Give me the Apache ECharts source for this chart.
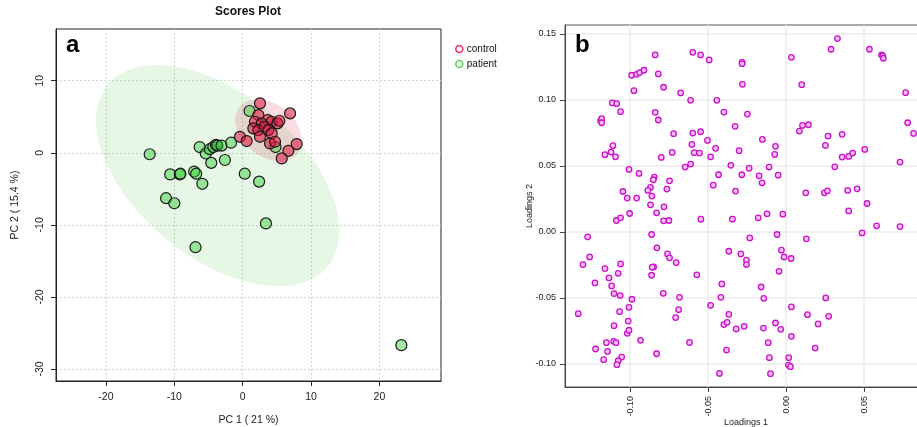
<!DOCTYPE html>
<html>
<head>
<meta charset="utf-8">
<script src="https://cdn.jsdelivr.net/npm/echarts@6/dist/echarts.min.js"></script>
<style>
  html, body { margin: 0; padding: 0; background: #ffffff; }
  #chart { width: 917px; height: 427px; }
</style>
</head>
<body>
<div id="chart"></div>
<script>
// ---- PCA scores (panel a) ----
const controlPC1 = [2.53, 6.93, 2.29, 3.66, 4.24, 1.80, 5.07, 5.36, 2.78, 1.56, 2.29, 3.26, 3.75, 4.24, 2.53, 4.00, 4.73, -0.40, 0.58, 7.90, 6.68, 5.71];
const controlPC2 = [6.86, 5.47, 5.24, 4.54, 4.31, 4.31, 4.08, 4.45, 4.08, 3.39, 3.15, 3.61, 3.15, 2.69, 2.22, 1.30, 1.53, 2.22, 1.63, 1.21, 0.28, -0.78];

const patientPC1 = [-13.6, -10.6, -9.2, -9.1, -7.1, -6.8, -5.9, -11.2, -10.0, -6.9, -6.3, -5.4, -4.6, -4.8, -4.3, -3.9, -3.7, -3.1, -2.6, -1.7, 0.3, 2.4, 3.4, 1.0, 4.8, 23.2];
const patientPC2 = [-0.2, -3.0, -3.0, -2.9, -2.6, -2.9, -4.3, -6.3, -7.0, -13.1, 0.8, -0.1, -1.4, 0.5, 0.8, 1.1, 1.0, 1.0, -1.0, 1.4, -2.9, -4.0, -9.8, 5.8, 0.8, -26.7];

// 95% confidence ellipses of each group: centre, spread along each PC, correlation
const controlEllipse = { cx: 3.78, cy: 3.13, sx: 4.86, sy: 4.28, r: -0.32 };
const patientEllipse = { cx: -3.66, cy: -3.17, sx: 17.79, sy: 15.35, r: -0.50 };

const scoreTicksX = [-20, -10, 0, 10, 20];
const scoreTicksY = [-30, -20, -10, 0, 10];

// ---- PCA loadings (panel b): [loading 1, loading 2] per variable ----
const loadingPairs = [
  [-0.0839,0.1341],[-0.0598,0.1361],[-0.0548,0.1341],[-0.0493,0.1303],[-0.0282,0.1285],[-0.0282,0.1275],[-0.0280,0.1118],[0.0034,0.1323],[0.0329,0.1465],[0.0288,0.1384],[0.0534,0.1384],[0.0612,0.1341],[0.0619,0.1334],[0.0623,0.1316],
  [-0.0990,0.1187],[-0.0958,0.1194],[-0.0939,0.1207],[-0.0911,0.1225],[-0.0975,0.1070],[-0.0819,0.1197],[-0.0785,0.1096],[-0.0676,0.1053],[-0.0612,0.0997],[-0.0444,0.0997],[0.0100,0.1116],[0.0766,0.1055],
  [-0.1114,0.0977],[-0.1086,0.0972],[-0.1061,0.0911],[-0.1189,0.0843],[-0.1182,0.0858],[-0.1182,0.0827],[-0.0839,0.0906],[-0.0819,0.0848],[-0.0248,0.0893],[-0.0399,0.0908],[-0.0721,0.0744],[-0.0598,0.0749],[-0.0548,0.0759],[-0.0327,0.0800],[-0.0504,0.0693],[0.0085,0.0764],[0.0105,0.0807],[0.0143,0.0812],[0.0779,0.0827],[0.0817,0.0746],
  [-0.1110,0.0653],[-0.1122,0.0605],[-0.1093,0.0569],[-0.1161,0.0585],[-0.0800,0.0564],[-0.0730,0.0602],[-0.0604,0.0663],[-0.0589,0.0600],[-0.0555,0.0597],[-0.0484,0.0569],[-0.0452,0.0633],[-0.0301,0.0615],[-0.0152,0.0701],[-0.0068,0.0648],[-0.0073,0.0587],[0.0269,0.0726],[0.0252,0.0655],[0.0359,0.0739],[0.0359,0.0567],[0.0401,0.0572],[0.0427,0.0597],[0.0504,0.0625],
  [-0.1007,0.0473],[-0.0943,0.0443],[-0.0647,0.0491],[-0.0612,0.0514],[-0.0354,0.0504],[-0.0433,0.0433],[-0.0237,0.0483],[-0.0284,0.0433],[-0.0109,0.0491],[-0.0051,0.0430],[-0.0173,0.0425],[-0.0154,0.0372],[0.0312,0.0493],[0.0730,0.0529],
  [-0.0845,0.0415],[-0.0851,0.0395],[-0.0869,0.0337],[-0.0886,0.0314],[-0.0747,0.0387],[-0.0467,0.0354],[-0.1046,0.0306],[-0.0860,0.0271],[-0.1018,0.0256],[-0.0958,0.0256],[-0.0764,0.0324],[-0.0324,0.0309],[0.0126,0.0296],[0.0245,0.0296],[0.0265,0.0311],[0.0395,0.0314],[0.0455,0.0326],
  [-0.0869,0.0205],[-0.0783,0.0190],[-0.0830,0.0144],[-0.1003,0.0139],[0.0519,0.0215],[0.0401,0.0159],[-0.1088,0.0086],[-0.1061,0.0106],[-0.0785,0.0084],[-0.0751,0.0086],[-0.0546,0.0096],[-0.0344,0.0096],[-0.0179,0.0106],[-0.0122,0.0137],[-0.0021,0.0134],[0.0580,0.0046],[0.0730,0.0040],
  [-0.1272,-0.0038],[-0.0862,-0.0020],[-0.0058,-0.0020],[0.0487,-0.0008],[0.0130,-0.0053],[-0.0233,-0.0046],[-0.1259,-0.0190],[-0.1302,-0.0248],[-0.0828,-0.0121],[-0.0367,-0.0147],[-0.0030,-0.0139],[-0.0760,-0.0167],[-0.0747,-0.0197],[-0.0290,-0.0167],[-0.0254,-0.0215],[-0.0254,-0.0248],[-0.0013,-0.0190],[0.0032,-0.0202],
  [-0.1161,-0.0278],[-0.1061,-0.0243],[-0.0849,-0.0266],[-0.0858,-0.0268],[-0.0704,-0.0233],[-0.1076,-0.0314],[-0.1135,-0.0349],[-0.0862,-0.0329],[-0.0572,-0.0326],[-0.0045,-0.0299],[-0.1225,-0.0387],[-0.1118,-0.0410],[-0.0412,-0.0395],[-0.0160,-0.0418],
  [-0.1103,-0.0468],[-0.1063,-0.0483],[-0.0988,-0.0511],[-0.0787,-0.0466],[-0.0683,-0.0496],[-0.0418,-0.0496],[-0.0143,-0.0504],[0.0254,-0.0501],[-0.1332,-0.0620],[-0.1007,-0.0572],[-0.0484,-0.0557],[-0.0689,-0.0590],[0.0034,-0.0569],[-0.1067,-0.0605],[-0.1012,-0.0676],[-0.0708,-0.0650],[-0.0367,-0.0625],[0.0137,-0.0628],[0.0273,-0.0640],
  [-0.1103,-0.0711],[-0.0399,-0.0703],[-0.0378,-0.0686],[-0.0320,-0.0736],[-0.0269,-0.0716],[-0.0068,-0.0691],[-0.0034,-0.0739],[-0.0145,-0.0729],[0.0205,-0.0698],[-0.1018,-0.0769],[-0.1007,-0.0746],[-0.0933,-0.0822],[-0.1152,-0.0840],[-0.1105,-0.0830],[-0.1090,-0.0840],[-0.1221,-0.0888],[-0.1144,-0.0906],[-0.0619,-0.0838],[0.0034,-0.0792],[-0.0115,-0.0840],[0.0186,-0.0881],[-0.0382,-0.0896],[-0.0830,-0.0924],
  [-0.1169,-0.0969],[-0.1054,-0.0949],[-0.1076,-0.0977],[-0.1084,-0.1007],[-0.0107,-0.0954],[0.0017,-0.0954],[0.0015,-0.1010],[0.0028,-0.1022],[-0.0427,-0.1073],[-0.0100,-0.1075]
];

const loadingTicksX = [-0.10, -0.05, 0, 0.05, 0.10];
const loadingTicksY = [-0.10, -0.05, 0, 0.05, 0.10, 0.15];

// ---- styling ----
const FONT = '"Liberation Sans", Arial, Helvetica, sans-serif';
const INK = '#222222';
const CONTROL_FILL = 'rgba(220, 20, 60, 0.55)';
const PATIENT_FILL = 'rgba(50, 205, 50, 0.45)';
const CONTROL_AREA = 'rgba(220, 20, 60, 0.15)';
const PATIENT_AREA = 'rgba(90, 200, 90, 0.15)';

function zip(xs, ys) { return xs.map((x, i) => [x, ys[i]]); }

// Confidence ellipse outline traced in data space and mapped through the axes
function ellipseSeries(e, fill) {
  return {
    type: 'custom',
    xAxisIndex: 0, yAxisIndex: 0,
    silent: true, z: 1,
    data: [[e.cx, e.cy]],
    renderItem: function (params, api) {
      const pts = [];
      const n = 120, k = Math.sqrt(1 - e.r * e.r);
      for (let i = 0; i < n; i++) {
        const t = (i / n) * 2 * Math.PI;
        const x = e.cx + e.sx * Math.cos(t);
        const y = e.cy + e.sy * (e.r * Math.cos(t) + k * Math.sin(t));
        pts.push(api.coord([x, y]));
      }
      return { type: 'polygon', shape: { points: pts }, style: { fill: fill } };
    }
  };
}

function scoreAxis(extra) {
  return Object.assign({
    type: 'value', gridIndex: 0,
    nameLocation: 'middle', nameMoveOverlap: false,
    nameTextStyle: { fontSize: 10.5, color: INK, fontFamily: FONT },
    axisLine: { show: true, onZero: false, lineStyle: { color: INK, width: 1 } },
    axisTick: { show: true, length: 5, lineStyle: { color: INK } },
    splitLine: { show: true, lineStyle: { color: '#d6d6d6', type: [2, 2], width: 1 } }
  }, extra);
}

function loadingAxis(extra) {
  return Object.assign({
    type: 'value', gridIndex: 1,
    nameLocation: 'middle', nameMoveOverlap: false,
    nameTextStyle: { fontSize: 9, color: INK, fontFamily: FONT },
    axisLine: { show: true, onZero: false, lineStyle: { color: '#444', width: 1 } },
    axisTick: { show: true, length: 5, lineStyle: { color: '#444' } },
    splitLine: { show: true, lineStyle: { color: '#ebebeb', width: 1.5 } }
  }, extra);
}

const option = {
  animation: false,
  backgroundColor: '#ffffff',
  textStyle: { fontFamily: FONT },
  title: [
    { text: 'Scores Plot', left: 248, top: 6, padding: 0, textAlign: 'center',
      textStyle: { fontSize: 12, fontWeight: 'bold', color: '#111', fontFamily: FONT } },
    { text: 'a', left: 66, top: 33, padding: 0,
      textStyle: { fontSize: 24, fontWeight: 'bold', color: '#000', fontFamily: FONT } },
    { text: 'b', left: 575, top: 33, padding: 0,
      textStyle: { fontSize: 24, fontWeight: 'bold', color: '#000', fontFamily: FONT } }
  ],
  legend: {
    left: 455, top: 44, orient: 'vertical', padding: 0,
    itemWidth: 7, itemHeight: 7, itemGap: 5, selectedMode: false,
    textStyle: { fontSize: 10, color: '#111', fontFamily: FONT, padding: [0, 0, 0, -1] },
    data: [
      { name: 'control', icon: 'circle', itemStyle: { color: '#ffffff', borderColor: '#e8336a', borderWidth: 1.6 } },
      { name: 'patient', icon: 'circle', itemStyle: { color: '#ffffff', borderColor: '#5fd35f', borderWidth: 1.6 } }
    ]
  },
  grid: [
    { left: 56, top: 29, width: 385, height: 352, show: true, outerBoundsMode: 'none',
      borderColor: INK, borderWidth: 1, backgroundColor: 'transparent' },
    { left: 565, top: 25, width: 362, height: 362, show: true, outerBoundsMode: 'none',
      borderColor: '#555', borderWidth: 1, backgroundColor: 'transparent' }
  ],
  xAxis: [
    scoreAxis({
      min: -27.3, max: 29.0, name: 'PC 1 ( 21 %)', nameGap: 34,
      axisTick: { show: true, length: 5, customValues: scoreTicksX, lineStyle: { color: INK } },
      axisLabel: { customValues: scoreTicksX, margin: 11, fontSize: 10.5, color: INK, fontFamily: FONT }
    }),
    loadingAxis({
      min: -0.1417, max: 0.0903, name: 'Loadings 1', nameGap: 31,
      axisTick: { show: true, length: 5, customValues: loadingTicksX, lineStyle: { color: '#444' } },
      axisLabel: { customValues: loadingTicksX, rotate: 90, margin: 9, fontSize: 9, color: INK, fontFamily: FONT,
        formatter: v => v.toFixed(2) }
    })
  ],
  yAxis: [
    scoreAxis({
      min: -31.67, max: 17.18, name: 'PC 2 ( 15.4 %)', nameGap: 35,
      axisTick: { show: true, length: 5, customValues: scoreTicksY, lineStyle: { color: INK } },
      axisLabel: { customValues: scoreTicksY, rotate: 90, margin: 10, fontSize: 10.5, color: INK, fontFamily: FONT }
    }),
    loadingAxis({
      min: -0.1176, max: 0.1568, name: 'Loadings 2', nameGap: 31,
      axisTick: { show: true, length: 5, customValues: loadingTicksY, lineStyle: { color: '#444' } },
      axisLabel: { customValues: loadingTicksY, margin: 9, fontSize: 9, color: INK, fontFamily: FONT,
        formatter: v => v.toFixed(2) }
    })
  ],
  series: [
    ellipseSeries(patientEllipse, PATIENT_AREA),
    ellipseSeries(controlEllipse, CONTROL_AREA),
    {
      name: 'patient', type: 'scatter', xAxisIndex: 0, yAxisIndex: 0, z: 3,
      symbol: 'circle', symbolSize: 11,
      itemStyle: { color: PATIENT_FILL, borderColor: '#1a1a1a', borderWidth: 1.2, opacity: 1 },
      data: zip(patientPC1, patientPC2)
    },
    {
      name: 'control', type: 'scatter', xAxisIndex: 0, yAxisIndex: 0, z: 4,
      symbol: 'circle', symbolSize: 11,
      itemStyle: { color: CONTROL_FILL, borderColor: '#1a1a1a', borderWidth: 1.2, opacity: 1 },
      data: zip(controlPC1, controlPC2)
    },
    {
      name: 'loadings', type: 'scatter', xAxisIndex: 1, yAxisIndex: 1, z: 3,
      symbol: 'circle', symbolSize: 5.5,
      itemStyle: { color: '#f3c6f3', borderColor: '#cc11cc', borderWidth: 1.3, opacity: 1 },
      data: loadingPairs
    }
  ]
};

const chart = echarts.init(document.getElementById('chart'), null, { renderer: 'canvas' });
chart.setOption(option);
</script>
</body>
</html>
